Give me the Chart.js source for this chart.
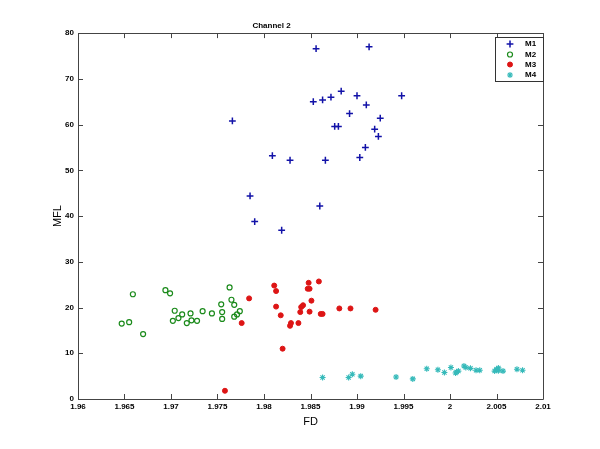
<!DOCTYPE html>
<html>
<head>
<meta charset="utf-8">
<title>Channel 2</title>
<script src="https://cdn.jsdelivr.net/npm/chart.js@4.4.1/dist/chart.umd.min.js"></script>
<style>
  body { margin: 0; background: #fff; }
  #wrap { width: 600px; height: 449px; }
</style>
</head>
<body>
<div id="wrap"><canvas id="myChart"></canvas></div>
<script>
// datos
const seriesNames = ['M1', 'M2', 'M3', 'M4'];

const xM1 = [1.9856, 1.9913, 1.9883, 1.9900, 1.9948, 1.9872, 1.9863, 1.9853, 1.9910, 1.9892, 1.9925, 1.9766, 1.9876,
  1.9880, 1.9919, 1.9923, 1.9909, 1.9809, 1.9903, 1.9828, 1.9866, 1.9785, 1.9860, 1.9790, 1.9819];
const yM1 = [76.6, 77.0, 67.3, 66.3, 66.3, 66.0, 65.4, 65.0, 64.3, 62.4, 61.4, 60.8, 59.6,
  59.6, 59.0, 57.4, 55.0, 53.2, 52.8, 52.2, 52.2, 44.4, 42.2, 38.8, 36.9];

const xM2 = [1.9647, 1.9655, 1.9659, 1.9670, 1.9694, 1.9699, 1.9702, 1.9704, 1.9708, 1.9712, 1.9717, 1.9721, 1.9722,
  1.9728, 1.9734, 1.9744, 1.9754, 1.9755, 1.9755, 1.9763, 1.9765, 1.9768, 1.9768, 1.9771, 1.9774];
const yM2 = [16.5, 16.8, 22.9, 14.2, 23.8, 23.1, 17.1, 19.3, 17.7, 18.5, 16.6, 18.7, 17.2,
  17.1, 19.2, 18.7, 20.7, 19.0, 17.5, 24.4, 21.7, 20.6, 18.0, 18.5, 19.2];

const xM3 = [1.9758, 1.9776, 1.9784, 1.9811, 1.9813, 1.9813, 1.9818, 1.9820, 1.9828, 1.9829, 1.9837, 1.9839, 1.9840,
  1.9842, 1.9847, 1.9849, 1.9848, 1.9851, 1.9849, 1.9859, 1.9861, 1.9863, 1.9881, 1.9893, 1.9920];
const yM3 = [1.8, 16.6, 22.0, 24.8, 23.6, 20.2, 18.3, 11.0, 16.0, 16.6, 16.6, 19.0, 20.1,
  20.5, 24.1, 24.1, 25.4, 21.5, 19.1, 25.7, 18.6, 18.6, 19.8, 19.8, 19.5];

const xM4 = [1.9863, 1.9891, 1.9895, 1.9904, 1.9942, 1.9960, 1.9975, 1.9987, 1.9994, 2.0001, 2.0006, 2.0007, 2.0009,
  2.0015, 2.0017, 2.0022, 2.0028, 2.0032, 2.0048, 2.0050, 2.0052, 2.0052, 2.0057, 2.0072, 2.0078];
const yM4 = [4.7, 4.7, 5.4, 5.0, 4.8, 4.4, 6.6, 6.4, 5.8, 6.9, 5.7, 5.9, 6.1,
  7.2, 6.9, 6.7, 6.3, 6.3, 6.1, 6.5, 6.8, 6.2, 6.1, 6.5, 6.3];

const xTicks = { min: 1.96, max: 2.01, step: 0.005 };
const yTicks = { min: 0, max: 80, step: 10 };

const FONT = '"Liberation Sans", Arial, sans-serif';

function pts(xs, ys) {
  return xs.map((x, i) => ({ x: x, y: ys[i] }));
}

const data = {
  datasets: [
    { label: seriesNames[0], data: pts(xM1, yM1), pointStyle: 'cross', pointRadius: 3.4,
      borderColor: '#1212a8', backgroundColor: '#1212a8', pointBorderWidth: 1.5 },
    { label: seriesNames[1], data: pts(xM2, yM2), pointStyle: 'circle', pointRadius: 2.5,
      borderColor: '#1a8a1a', backgroundColor: 'rgba(0,0,0,0)', pointBorderWidth: 1.2 },
    { label: seriesNames[2], data: pts(xM3, yM3), pointStyle: 'circle', pointRadius: 2.5,
      borderColor: '#dd1515', backgroundColor: '#dd1515', pointBorderWidth: 1 },
    { label: seriesNames[3], data: pts(xM4, yM4), pointStyle: 'star', pointRadius: 3,
      borderColor: '#36baba', backgroundColor: '#36baba', pointBorderWidth: 1.1 }
  ]
};

// caja de ejes estilo matlab, ticks hacia dentro y leyenda dentro
const matlabAxes = {
  id: 'matlabAxes',
  afterDraw(chart) {
    const ctx = chart.ctx;
    const a = chart.chartArea;
    const xs = chart.scales.x, ys = chart.scales.y;
    ctx.save();
    ctx.strokeStyle = '#444';
    ctx.lineWidth = 1;
    ctx.beginPath();
    ctx.rect(Math.round(a.left) + 0.5, Math.round(a.top) + 0.5, Math.round(a.right - a.left), Math.round(a.bottom - a.top));
    xs.ticks.forEach(t => {
      const px = Math.round(xs.getPixelForValue(t.value)) + 0.5;
      ctx.moveTo(px, a.bottom); ctx.lineTo(px, a.bottom - 5);
      ctx.moveTo(px, a.top); ctx.lineTo(px, a.top + 5);
    });
    ys.ticks.forEach(t => {
      const py = Math.round(ys.getPixelForValue(t.value)) + 0.5;
      ctx.moveTo(a.left, py); ctx.lineTo(a.left + 5, py);
      ctx.moveTo(a.right, py); ctx.lineTo(a.right - 5, py);
    });
    ctx.stroke();

    // leyenda
    const lx = 495.5, ly = 37.5, lw = 48, lh = 44;
    ctx.fillStyle = '#fff';
    ctx.fillRect(lx, ly, lw, lh);
    ctx.strokeStyle = '#333';
    ctx.strokeRect(lx, ly, lw, lh);
    ctx.font = 'bold 8px ' + FONT;
    ctx.textBaseline = 'middle';
    ctx.textAlign = 'left';
    const rows = [44, 54.5, 64.5, 75];
    chart.data.datasets.forEach((ds, i) => {
      ctx.strokeStyle = ds.borderColor;
      ctx.fillStyle = ds.backgroundColor;
      ctx.lineWidth = ds.pointBorderWidth;
      Chart.helpers.drawPoint(ctx, { pointStyle: ds.pointStyle, radius: ds.pointRadius, rotation: 0,
        borderWidth: ds.pointBorderWidth }, 510, rows[i]);
      ctx.fillStyle = '#000';
      ctx.fillText(ds.label, 525, rows[i]);
    });
    ctx.restore();
  }
};

const options = {
  responsive: true,
  maintainAspectRatio: false,
  animation: false,
  layout: { padding: { left: 0, right: 57, top: 0, bottom: 0 } },
  plugins: {
    legend: { display: false },
    tooltip: { enabled: false },
    title: {
      display: true,
      text: 'Channel 2',
      color: '#000',
      font: { family: FONT, size: 8, weight: 'bold', lineHeight: 1.2 },
      padding: { top: 20.5, bottom: 3 }
    }
  },
  scales: {
    x: {
      type: 'linear',
      min: xTicks.min,
      max: xTicks.max,
      grid: { display: false, drawTicks: false },
      border: { display: false },
      ticks: {
        stepSize: xTicks.step,
        padding: 3,
        color: '#000',
        maxRotation: 0,
        autoSkip: false,
        font: { family: FONT, size: 8, weight: 'bold' },
        callback: v => String(parseFloat(v.toFixed(3)))
      },
      title: {
        display: true, text: 'FD', color: '#000',
        font: { family: FONT, size: 11, lineHeight: 1.2 },
        padding: { top: 0, bottom: 20 }
      },
      afterFit: s => { s.height = 50; }
    },
    y: {
      type: 'linear',
      min: yTicks.min,
      max: yTicks.max,
      grid: { display: false, drawTicks: false },
      border: { display: false },
      ticks: {
        stepSize: yTicks.step,
        padding: 4,
        color: '#000',
        autoSkip: false,
        font: { family: FONT, size: 8, weight: 'bold' }
      },
      title: {
        display: true, text: 'MFL', color: '#000',
        font: { family: FONT, size: 11, lineHeight: 1.2 },
        padding: { top: 51, bottom: 0 }
      },
      afterFit: s => { s.width = 78; }
    }
  }
};

const config = {
  type: 'scatter',
  data,
  options,
  plugins: [matlabAxes]
};

const myChart = new Chart(document.getElementById('myChart').getContext('2d'), config);
</script>
</body>
</html>
